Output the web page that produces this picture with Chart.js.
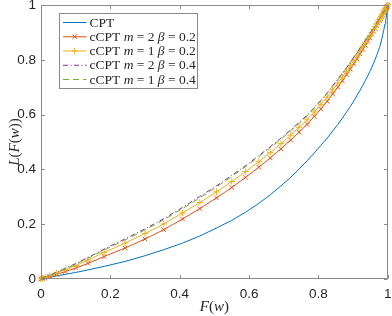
<!DOCTYPE html>
<html>
<head>
<meta charset="utf-8">
<script src="https://cdn.jsdelivr.net/npm/chart.js@4/dist/chart.umd.min.js"></script>
<style>
  html, body { margin: 0; padding: 0; background: #fff; }
  canvas { display: block; }
</style>
</head>
<body>
<canvas id="chart" width="392" height="316"></canvas>
<script>
// F(w) sample points (shared by all curves)
const F = [0, 0.004, 0.012, 0.025, 0.045, 0.07, 0.1, 0.135, 0.182, 0.242, 0.3, 0.354, 0.408, 0.458, 0.506, 0.55,
  0.59, 0.628, 0.661, 0.692, 0.72, 0.744, 0.767, 0.788, 0.807, 0.825, 0.841, 0.856, 0.869, 0.881, 0.892, 0.902,
  0.911, 0.92, 0.928, 0.935, 0.942, 0.948, 0.954, 0.959, 0.964, 0.968, 0.972, 0.976, 0.979, 0.982, 0.985, 0.988,
  0.99, 0.992, 0.994, 0.996, 0.998, 1];

const L_cpt = [0, 0.001, 0.003, 0.006, 0.011, 0.017, 0.024, 0.033, 0.046, 0.064, 0.085, 0.107, 0.131, 0.157, 0.186, 0.214,
  0.244, 0.276, 0.307, 0.34, 0.371, 0.401, 0.431, 0.46, 0.488, 0.514, 0.54, 0.564, 0.587, 0.609, 0.63, 0.65,
  0.669, 0.689, 0.707, 0.724, 0.741, 0.757, 0.773, 0.788, 0.803, 0.816, 0.83, 0.845, 0.857, 0.872, 0.889, 0.906,
  0.918, 0.931, 0.945, 0.96, 0.978, 1];

const L_m2_b02 = [0, 0.0015, 0.0045, 0.0095, 0.017, 0.027, 0.04, 0.057, 0.082, 0.113, 0.146, 0.18, 0.219, 0.257, 0.296, 0.334,
  0.371, 0.408, 0.442, 0.475, 0.507, 0.536, 0.564, 0.593, 0.62, 0.648, 0.675, 0.7, 0.723, 0.745, 0.766, 0.786,
  0.803, 0.822, 0.838, 0.853, 0.868, 0.88, 0.893, 0.904, 0.915, 0.925, 0.934, 0.943, 0.95, 0.957, 0.964, 0.971,
  0.975, 0.98, 0.985, 0.99, 0.9945, 1];

const L_m1_b02 = [0, 0.002, 0.006, 0.0125, 0.022, 0.034, 0.049, 0.069, 0.097, 0.131, 0.166, 0.201, 0.241, 0.279, 0.318, 0.356,
  0.392, 0.428, 0.462, 0.494, 0.525, 0.554, 0.581, 0.61, 0.637, 0.664, 0.69, 0.715, 0.737, 0.758, 0.779, 0.798,
  0.814, 0.833, 0.848, 0.862, 0.877, 0.888, 0.9, 0.911, 0.921, 0.93, 0.939, 0.947, 0.954, 0.96, 0.967, 0.973,
  0.977, 0.981, 0.986, 0.991, 0.9945, 1];

const L_m2_b04 = [0, 0.0025, 0.007, 0.0145, 0.025, 0.039, 0.056, 0.078, 0.109, 0.146, 0.183, 0.22, 0.261, 0.301, 0.34, 0.378,
  0.414, 0.45, 0.483, 0.514, 0.544, 0.571, 0.597, 0.626, 0.652, 0.679, 0.705, 0.729, 0.751, 0.771, 0.791, 0.81,
  0.825, 0.843, 0.857, 0.871, 0.885, 0.895, 0.907, 0.917, 0.926, 0.935, 0.943, 0.951, 0.957, 0.963, 0.969, 0.975,
  0.978, 0.983, 0.987, 0.991, 0.995, 1];

const L_m1_b04 = [0, 0.0025, 0.0065, 0.0135, 0.024, 0.037, 0.054, 0.075, 0.106, 0.142, 0.179, 0.216, 0.257, 0.296, 0.336, 0.374,
  0.41, 0.446, 0.479, 0.51, 0.541, 0.568, 0.594, 0.624, 0.65, 0.677, 0.703, 0.727, 0.749, 0.77, 0.79, 0.808,
  0.824, 0.842, 0.856, 0.87, 0.884, 0.895, 0.906, 0.916, 0.926, 0.935, 0.943, 0.95, 0.956, 0.963, 0.969, 0.975,
  0.978, 0.983, 0.987, 0.991, 0.995, 1];

const names = ['CPT', 'cCPT m = 2 β = 0.2', 'cCPT m = 1 β = 0.2', 'cCPT m = 2 β = 0.4', 'cCPT m = 1 β = 0.4'];
const xTicks = [0, 0.2, 0.4, 0.6, 0.8, 1];
const yTicks = [0, 0.2, 0.4, 0.6, 0.8, 1];

const colors = ['#0072BD', '#D95319', '#EDB120', '#7E2F8E', '#77AC30'];
const dashes = [[], [], [], [5, 2.5, 1, 2.5], [6, 4]];
const markers = [null, 'crossRot', 'cross', null, null];

const pts = arr => F.map((f, i) => ({x: f, y: arr[i]}));
const series = [L_cpt, L_m2_b02, L_m1_b02, L_m2_b04, L_m1_b04];

const datasets = series.map((s, i) => ({
  label: names[i],
  data: pts(s),
  borderColor: colors[i],
  backgroundColor: colors[i],
  borderWidth: 1,
  borderDash: dashes[i],
  pointStyle: markers[i] || 'circle',
  pointRadius: markers[i] ? 3.2 : 0,
  pointBorderWidth: 1,
  pointHoverRadius: 0,
  tension: 0,
  clip: false,
  order: 5 - i
}));

const SANS = '"Liberation Sans", Arial, Helvetica, sans-serif';
const SERIF = '"Liberation Serif", "Times New Roman", serif';
const AXIS = '#8a8a8a';
const TXT = '#262626';

// draw text tokens, italic for math symbols
function drawTokens(ctx, tokens, x, y, size, align) {
  const font = it => (it ? 'italic ' : '') + size + 'px ' + SERIF;
  let total = 0;
  tokens.forEach(t => { ctx.font = font(t[1]); total += ctx.measureText(t[0]).width; });
  let cx = align === 'center' ? x - total / 2 : x;
  ctx.textAlign = 'left';
  tokens.forEach(t => {
    ctx.font = font(t[1]);
    ctx.fillText(t[0], cx, y);
    cx += ctx.measureText(t[0]).width;
  });
}

function mark(ctx, style, x, y, r) {
  ctx.beginPath();
  if (style === 'crossRot') {
    const d = r * 0.7071;
    ctx.moveTo(x - d, y - d); ctx.lineTo(x + d, y + d);
    ctx.moveTo(x - d, y + d); ctx.lineTo(x + d, y - d);
  } else {
    ctx.moveTo(x - r, y); ctx.lineTo(x + r, y);
    ctx.moveTo(x, y - r); ctx.lineTo(x, y + r);
  }
  ctx.stroke();
}

const deco = {
  id: 'deco',
  afterDatasetsDraw(chart) {
    const {ctx, chartArea: a, scales: {x, y}} = chart;
    ctx.save();
    // box
    ctx.strokeStyle = AXIS;
    ctx.lineWidth = 1;
    ctx.setLineDash([]);
    const L = Math.round(a.left) + 0.5, R = Math.round(a.right) - 0.5;
    const T = Math.round(a.top) + 0.5, B = Math.round(a.bottom) - 0.5;
    ctx.strokeRect(L, T, R - L, B - T);
    // inward ticks on all sides
    const tl = 3.5;
    ctx.beginPath();
    xTicks.forEach(v => {
      const px = Math.round(x.getPixelForValue(v)) + 0.5;
      ctx.moveTo(px, B); ctx.lineTo(px, B - tl);
      ctx.moveTo(px, T); ctx.lineTo(px, T + tl);
    });
    yTicks.forEach(v => {
      const py = Math.round(y.getPixelForValue(v)) + 0.5;
      ctx.moveTo(L, py); ctx.lineTo(L + tl, py);
      ctx.moveTo(R, py); ctx.lineTo(R - tl, py);
    });
    ctx.stroke();

    // axis titles
    ctx.fillStyle = TXT;
    ctx.textBaseline = 'alphabetic';
    drawTokens(ctx, [['F', 1], ['(', 0], ['w', 1], [')', 0]], (a.left + a.right) / 2, 311, 15, 'center');
    ctx.save();
    ctx.translate(19, (a.top + a.bottom) / 2);
    ctx.rotate(-Math.PI / 2);
    drawTokens(ctx, [['L', 1], ['(', 0], ['F', 1], ['(', 0], ['w', 1], [')', 0], [')', 0]], 0, 0, 15, 'center');
    ctx.restore();

    // legend
    const bx = a.left + 18.5, by = a.top + 8.5, bw = 138, bh = 75;
    ctx.fillStyle = '#fff';
    ctx.fillRect(bx, by, bw, bh);
    ctx.strokeStyle = AXIS;
    ctx.strokeRect(bx, by, bw, bh);
    names.forEach((n, i) => {
      const ry = by + 9 + i * 14.25;
      ctx.strokeStyle = colors[i];
      ctx.lineWidth = 1;
      ctx.setLineDash(dashes[i]);
      ctx.beginPath();
      ctx.moveTo(bx + 3.5, ry); ctx.lineTo(bx + 27, ry);
      ctx.stroke();
      ctx.setLineDash([]);
      if (markers[i]) mark(ctx, markers[i], bx + 15.2, ry, 3.2);
      const toks = [];
      n.split(' ').forEach((w, k) => {
        if (k) toks.push([' ', 0]);
        toks.push([w, w === 'm' || w === 'β' ? 1 : 0]);
      });
      ctx.fillStyle = TXT;
      ctx.textBaseline = 'middle';
      drawTokens(ctx, toks, bx + 30, ry + 0.5, 13.5, 'left');
    });
    ctx.restore();
  }
};

const fmt = v => String(Math.round(v * 10) / 10);

new Chart(document.getElementById('chart'), {
  type: 'line',
  data: {datasets},
  plugins: [deco],
  options: {
    responsive: false,
    animation: false,
    devicePixelRatio: 1,
    layout: {padding: {top: 5, right: 4, left: 0, bottom: 0}},
    plugins: {legend: {display: false}, tooltip: {enabled: false}},
    scales: {
      x: {
        type: 'linear', min: 0, max: 1,
        afterFit: s => { s.height = 37; s.paddingLeft = 0; s.paddingRight = 0; },
        afterBuildTicks: s => { s.ticks = xTicks.map(v => ({value: v})); },
        grid: {display: false, drawTicks: false},
        border: {display: false},
        ticks: {color: TXT, font: {family: SANS, size: 13.5}, padding: 7, maxRotation: 0, callback: fmt}
      },
      y: {
        type: 'linear', min: 0, max: 1,
        afterFit: s => { s.width = 41; s.paddingTop = 0; s.paddingBottom = 0; },
        afterBuildTicks: s => { s.ticks = yTicks.map(v => ({value: v})); },
        grid: {display: false, drawTicks: false},
        border: {display: false},
        ticks: {color: TXT, font: {family: SANS, size: 13.5}, padding: 5, callback: fmt}
      }
    }
  }
});
</script>
</body>
</html>
